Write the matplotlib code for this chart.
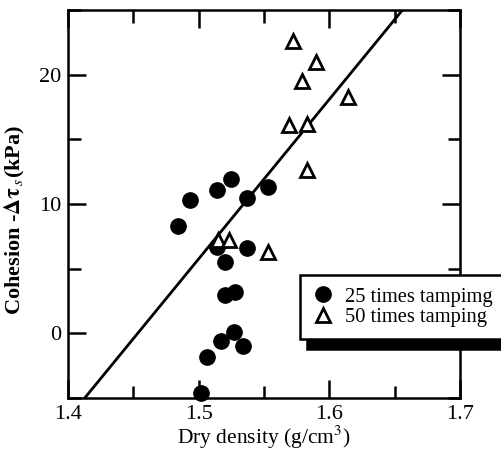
import matplotlib.pyplot as plt
from matplotlib.ticker import MultipleLocator

plt.rcParams["font.family"] = ["Liberation Serif", "DejaVu Serif"]
plt.rcParams["mathtext.fontset"] = "stix"

# 25 times tamping (circles)
dens_25 = [1.484, 1.493, 1.514, 1.525, 1.537, 1.553, 1.514, 1.537, 1.520,
           1.520, 1.528, 1.527, 1.517, 1.534, 1.506, 1.502]
coh_25 = [8.3, 10.3, 11.1, 11.9, 10.5, 11.3, 6.7, 6.6, 5.5,
          3.0, 3.2, 0.1, -0.6, -1.0, -1.8, -4.6]

# 50 times tamping (triangles)
dens_50 = [1.572, 1.590, 1.579, 1.614, 1.569, 1.583, 1.583, 1.515, 1.523, 1.553]
coh_50 = [22.6, 21.0, 19.5, 18.3, 16.1, 16.2, 12.6, 7.2, 7.2, 6.3]

# regression line  c = slope * (rho - rho0) + c0
slope = 123.4
rho0 = 1.4128
c0 = -5.0
line_x = [1.40, 1.70]

fig = plt.figure(figsize=(5.02, 4.55), dpi=100)
ax = fig.add_axes([0.1355, 0.1253, 0.781, 0.8527])

ax.plot(line_x, [slope * (x - rho0) + c0 for x in line_x], color="black", lw=2.0)
ax.plot(dens_25, coh_25, "o", color="black", ms=11, ls="none",
        label="25 times tampimg", clip_on=False)
ax.plot(dens_50, coh_50, "^", mfc="white", mec="black", mew=2.0, ms=10.5,
        ls="none", label="50 times tamping")

ax.set_xlim(1.4, 1.7)
ax.set_ylim(-5, 25)
ax.xaxis.set_major_locator(MultipleLocator(0.1))
ax.xaxis.set_minor_locator(MultipleLocator(0.05))
ax.yaxis.set_major_locator(MultipleLocator(10))
ax.yaxis.set_minor_locator(MultipleLocator(5))
ax.tick_params(which="both", direction="in", top=True, right=True, width=1.8,
               labelsize=16, pad=5)
ax.tick_params(which="major", length=13)
ax.tick_params(which="minor", length=9)
for s in ax.spines.values():
    s.set_linewidth(1.8)

ax.set_xlabel("Dry density (g/cm$^3$)", fontsize=15.5, labelpad=0)
ax.set_ylabel(r"Cohesion -$\mathbf{\Delta\tau}_{\,s}$(kPa)", fontsize=16,
              fontweight="bold")
ax.yaxis.set_label_coords(-0.105, 0.46)

leg = ax.legend(loc="upper left", bbox_to_anchor=(0.598, 0.396),
                bbox_transform=fig.transFigure, fontsize=14.8, frameon=True,
                fancybox=False, edgecolor="black", handletextpad=0.6,
                labelspacing=0.05, borderpad=0.6, handlelength=1.0,
                shadow={"ox": 5, "oy": -7, "color": "black", "alpha": 1},
                borderaxespad=0)
leg.get_frame().set_linewidth(1.8)
leg.set_clip_on(False)

fig.savefig("out.png", dpi=100)
